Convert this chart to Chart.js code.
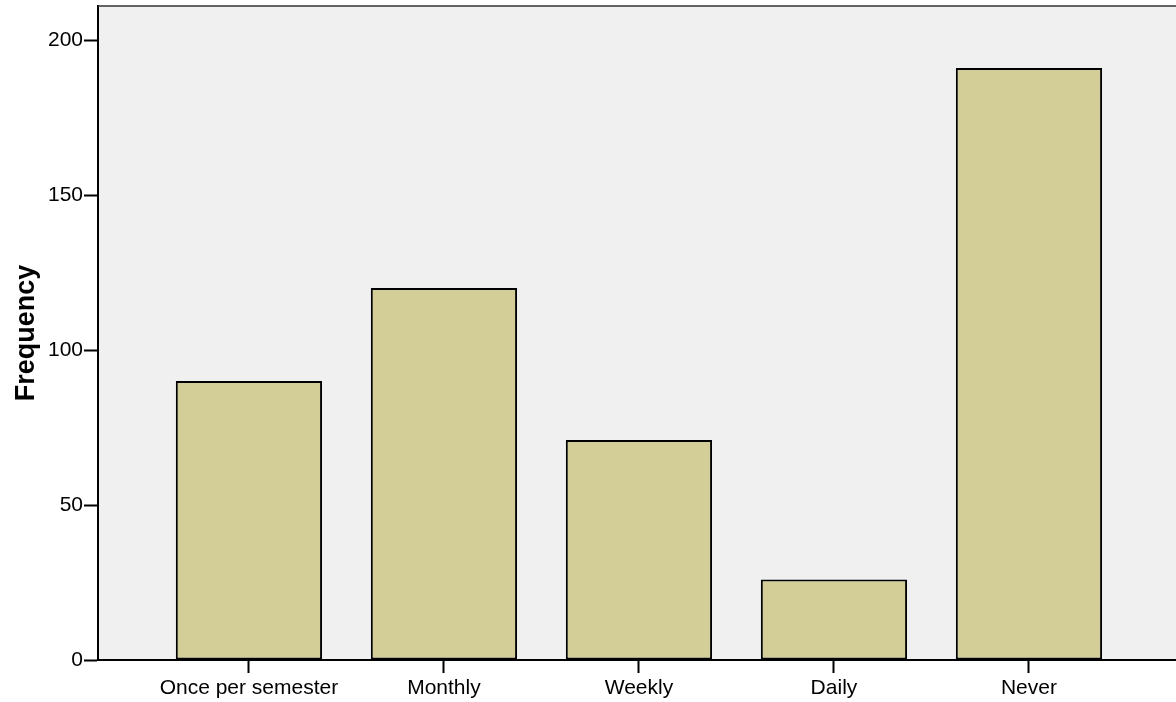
<!DOCTYPE html>
<html>
<head>
<meta charset="utf-8">
<script src="https://cdn.jsdelivr.net/npm/chart.js@4.4.0/dist/chart.umd.min.js"></script>
<style>
  html, body { margin: 0; padding: 0; background: #fff; }
  #wrap { width: 1176px; height: 702px; }
</style>
</head>
<body>
<div id="wrap"><canvas id="freqChart"></canvas></div>
<script>
// chart data
const categories = ['Once per semester', 'Monthly', 'Weekly', 'Daily', 'Never'];
const frequency = [90, 120, 71, 26, 191];
const yTicks = [0, 50, 100, 150, 200];

// light grey plot background + thin top frame line
const plotBackground = {
    id: 'plotBackground',
    beforeDraw(chart) {
        const { ctx, chartArea: a } = chart;
        ctx.save();
        ctx.fillStyle = '#f0f0f0';
        ctx.fillRect(a.left, a.top, a.right - a.left, a.bottom - a.top);
        ctx.restore();
    },
    afterDraw(chart) {
        const { ctx, chartArea: a } = chart;
        ctx.save();
        ctx.strokeStyle = '#333';
        ctx.lineWidth = 1.5;
        ctx.beginPath();
        ctx.moveTo(a.left, a.top);
        ctx.lineTo(a.right, a.top);
        ctx.stroke();
        ctx.restore();
    }
};

document.addEventListener('DOMContentLoaded', function() {
    const font = { family: '"Liberation Sans", Arial, sans-serif', size: 21 };

    new Chart(document.getElementById('freqChart'), {
        type: 'bar',
        data: {
            datasets: [{
                label: 'Frequency',
                data: frequency.map((v, i) => ({ x: i, y: v })),
                backgroundColor: '#d3ce97',
                borderColor: '#000',
                borderWidth: 2,
                borderSkipped: false,
                barPercentage: 1,
                categoryPercentage: 0.75
            }]
        },
        options: {
            responsive: true,
            maintainAspectRatio: false,
            animation: false,
            layout: { padding: { top: 6, right: 0, left: 0, bottom: 0 } },
            plugins: {
                legend: { display: false },
                tooltip: { enabled: false }
            },
            scales: {
                x: {
                    type: 'linear',
                    offset: false,
                    min: -0.774,
                    max: 4.754,
                    afterBuildTicks: axis => {
                        axis.ticks = categories.map((c, i) => ({ value: i }));
                    },
                    afterFit: axis => {
                        axis.height = 42;
                        axis.paddingLeft = 0;
                        axis.paddingRight = 0;
                    },
                    ticks: {
                        callback: value => categories[value] || '',
                        color: '#000',
                        font: font,
                        padding: 3,
                        maxRotation: 0,
                        autoSkip: false
                    },
                    grid: {
                        offset: false,
                        drawOnChartArea: false,
                        tickLength: 13,
                        tickWidth: 2,
                        tickColor: '#000'
                    },
                    border: { color: '#000', width: 2 }
                },
                y: {
                    min: 0,
                    max: 211,
                    afterBuildTicks: axis => {
                        axis.ticks = yTicks.map(v => ({ value: v }));
                    },
                    afterFit: axis => {
                        axis.width = 98;
                        axis.paddingTop = 0;
                        axis.paddingBottom = 0;
                    },
                    ticks: {
                        color: '#000',
                        font: font,
                        padding: 1
                    },
                    grid: {
                        drawOnChartArea: false,
                        tickLength: 14,
                        tickWidth: 2,
                        tickColor: '#000'
                    },
                    border: { color: '#000', width: 2 },
                    title: {
                        display: true,
                        text: 'Frequency',
                        color: '#000',
                        font: { family: '"Liberation Sans", Arial, sans-serif', size: 27, weight: 'bold' },
                        padding: { top: 10, bottom: 0 }
                    }
                }
            }
        },
        plugins: [plotBackground]
    });
});
</script>
</body>
</html>
